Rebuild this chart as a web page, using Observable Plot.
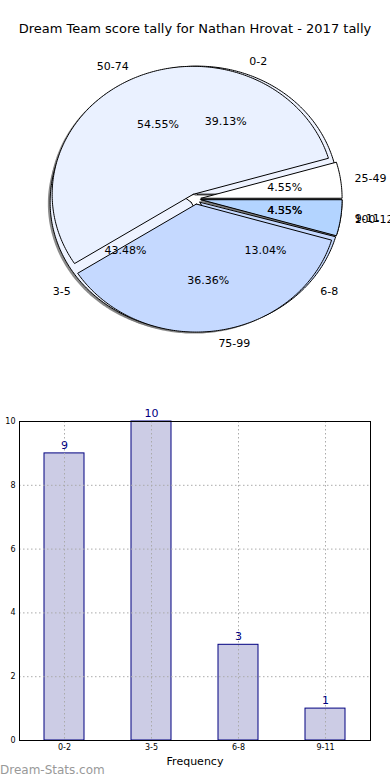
<!DOCTYPE html>
<html>
<head>
<meta charset="utf-8">
<script src="https://cdn.jsdelivr.net/npm/d3@7"></script>
<script src="https://cdn.jsdelivr.net/npm/@observablehq/plot@0.6"></script>
<style>
  body { margin: 0; background: #fff; }
  #root { position: relative; width: 390px; height: 780px; overflow: hidden; font-family: "DejaVu Sans", sans-serif; background: #fff; }
  #title { position: absolute; left: 0; width: 390px; top: 21px; text-align: center; font-size: 13px; color: #000; white-space: nowrap; }
  #pie { position: absolute; left: 0; top: 45px; }
  #bar { position: absolute; left: 0; top: 395px; }
  #mark { position: absolute; left: 0; top: 763px; font-size: 12px; color: #999; white-space: nowrap; }
</style>
</head>
<body>
<div id="root">
  <div id="title">Dream Team score tally for Nathan Hrovat - 2017 tally</div>
  <div id="pie"></div>
  <div id="bar"></div>
  <div id="mark">Dream-Stats.com</div>
</div>
<script>
// Score-range pie (drawn on top)
const scoreLabels = ["25-49", "50-74", "75-99", "100-124"];
const scoreCounts = [1, 12, 8, 1];
const scoreColors = ["#ffffff", "#eaf1ff", "#c5d9ff", "#b3d4ff"];
// Frequency pie (drawn beneath)
const freqLabels = ["0-2", "3-5", "6-8", "9-11"];
const freqCounts = [9, 10, 3, 1];
const freqColors = ["#eef3ff", "#eef3ff", "#c5d9ff", "#b3d4ff"];
// Bar chart
const barCategories = ["0-2", "3-5", "6-8", "9-11"];
const barValues = [9, 10, 3, 1];
const yTicks = [0, 2, 4, 6, 8, 10];

const EXPLODE = 0.04;

function wedges(labels, counts, colors) {
  const total = d3.sum(counts);
  let a = 0;
  return labels.map((label, i) => {
    const a0 = a, a1 = a + counts[i] / total * 2 * Math.PI;
    a = a1;
    const mid = (a0 + a1) / 2;
    const ox = EXPLODE * Math.cos(mid), oy = EXPLODE * Math.sin(mid);
    const n = Math.max(6, Math.ceil((a1 - a0) / 0.015));
    const pts = [[ox, oy]];
    for (let k = 0; k <= n; k++) {
      const t = a0 + (a1 - a0) * k / n;
      pts.push([ox + Math.cos(t), oy + Math.sin(t)]);
    }
    pts.push([ox, oy]);
    return {
      label, color: colors[i], mid, ox, oy, pts,
      pct: (counts[i] / total * 100).toFixed(2) + "%",
      lx: ox + 1.1 * Math.cos(mid), ly: oy + 1.1 * Math.sin(mid),
      px: ox + 0.6 * Math.cos(mid), py: oy + 0.6 * Math.sin(mid)
    };
  });
}

const W1 = wedges(scoreLabels, scoreCounts, scoreColors);
const W2 = wedges(freqLabels, freqCounts, freqColors);
const allW = [...W2, ...W1];

const pieMarks = [];
// shadow
for (const w of allW) {
  pieMarks.push(Plot.line(w.pts, {x: d => d[0] - 0.016, y: d => d[1] - 0.012, fill: "#777", fillOpacity: 0.85, stroke: "none"}));
}
for (const w of W2) {
  pieMarks.push(Plot.line(w.pts, {x: d => d[0], y: d => d[1], fill: w.color, stroke: "black", strokeWidth: 1}));
}
for (const w of W1) {
  pieMarks.push(Plot.line(w.pts, {x: d => d[0], y: d => d[1], fill: w.color, stroke: "black", strokeWidth: 1}));
}
pieMarks.push(Plot.text(allW.filter(w => w.lx >= 0), {x: "lx", y: "ly", text: "label", textAnchor: "start", fontSize: 11, fill: "black"}));
pieMarks.push(Plot.text(allW.filter(w => w.lx < 0), {x: "lx", y: "ly", text: "label", textAnchor: "end", fontSize: 11, fill: "black"}));
pieMarks.push(Plot.text(allW, {x: "px", y: "py", text: "pct", fontSize: 11, fill: "black"}));

const pie = Plot.plot({
  width: 390, height: 350,
  margin: 0,
  x: {domain: [-195 / 141, 195 / 141], range: [0, 390], axis: null},
  y: {domain: [-1.535, 1.199], range: [350, 0], axis: null},
  style: {fontFamily: "DejaVu Sans", background: "transparent", overflow: "visible"},
  marks: pieMarks
});
document.getElementById("pie").appendChild(pie);

const barData = barCategories.map((c, i) => ({cat: c, v: barValues[i]}));
const grid = {stroke: "#aaa", strokeWidth: 1, strokeDasharray: "1.5,2.5"};
const bar = Plot.plot({
  width: 390, height: 385,
  marginTop: 26, marginBottom: 40, marginLeft: 19, marginRight: 20,
  style: {fontFamily: "DejaVu Sans", background: "transparent", overflow: "visible"},
  x: {domain: barCategories, paddingInner: 0.545, paddingOuter: 0.2725, label: null},
  y: {domain: [0, 10], label: null},
  marks: [
    Plot.barY(barData, {x: "cat", y: "v", fill: "#ccccE5", stroke: "#000080", strokeWidth: 1}),
    Plot.ruleY(yTicks.filter(t => t > 0 && t < 10), {y: d => d, ...grid}),
    Plot.ruleX(barCategories, {x: d => d, ...grid}),
    Plot.frame({stroke: "black", strokeWidth: 1}),
    Plot.text(barData, {x: "cat", y: "v", text: d => String(d.v), dy: -8, fill: "#000080", fontSize: 11}),
    Plot.axisY({ticks: yTicks, tickSize: 0, tickPadding: 4, fontSize: 8, label: null}),
    Plot.axisX({tickSize: 0, tickPadding: 4, fontSize: 8, label: null}),
    Plot.text(["Frequency"], {frameAnchor: "bottom", dy: 24, fontSize: 11, fill: "black"}),
    Plot.text(["Number of Times"], {frameAnchor: "left", dx: -25, rotate: -90, fontSize: 11, fill: "black", stroke: "none"})
  ]
});
document.getElementById("bar").appendChild(bar);
</script>
</body>
</html>
